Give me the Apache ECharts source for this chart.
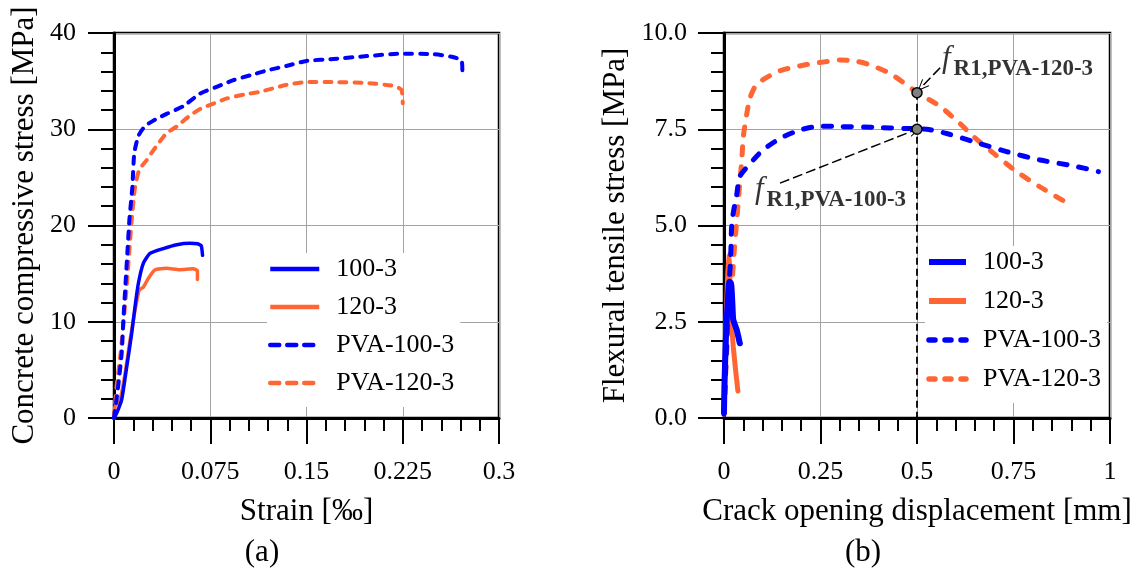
<!DOCTYPE html>
<html><head><meta charset="utf-8">
<script src="https://cdn.jsdelivr.net/npm/echarts@6/dist/echarts.min.js"></script>
<style>html,body{margin:0;padding:0;background:#fff}#c{width:1142px;height:571px}</style>
</head><body><div id="c"></div>
<script>
const FONT = '"Liberation Serif", "Times New Roman", serif';
const BLUE = '#0000ff';
const ORANGE = '#ff6633';

const seriesNames = ['100-3', '120-3', 'PVA-100-3', 'PVA-120-3'];
const xTicksA = ['0', '0.075', '0.15', '0.225', '0.3'];
const yTicksA = ['0', '10', '20', '30', '40'];
const xTicksB = ['0', '0.25', '0.5', '0.75', '1'];
const yTicksB = ['0.0', '2.5', '5.0', '7.5', '10.0'];

// (a) strain [‰] vs concrete compressive stress [MPa]
const a_100_3 = [[0,0],[0.0021,0.5],[0.006,1.9],[0.0099,5.3],[0.0138,8.8],[0.0164,11.6],[0.019,14.0],[0.0229,16.1],[0.028,17.1],[0.0384,17.6],[0.0489,18.0],[0.0592,18.15],[0.065,18.1],[0.068,17.9],[0.069,16.9]];
const a_120_3 = [[0,0],[0.0008,1.2],[0.0047,1.9],[0.0086,4.6],[0.0125,8.1],[0.0164,11.2],[0.0197,13.3],[0.0229,13.6],[0.0267,14.5],[0.032,15.4],[0.041,15.55],[0.051,15.4],[0.062,15.5],[0.065,15.3],[0.065,14.4]];
const a_PVA_100_3 = [[0,0],[0.003,3.0],[0.006,6.75],[0.0073,10.2],[0.0104,17.1],[0.012,20.6],[0.0143,24.0],[0.0158,27.5],[0.019,29.3],[0.024,30.3],[0.032,31.0],[0.041,31.6],[0.054,32.4],[0.067,33.7],[0.08,34.4],[0.093,35.1],[0.106,35.6],[0.119,36.1],[0.135,36.6],[0.150,37.1],[0.171,37.3],[0.197,37.6],[0.223,37.85],[0.249,37.8],[0.264,37.5],[0.271,37.1],[0.2715,35.7]];
const a_PVA_120_3 = [[0,0],[0.002,3.3],[0.0052,6.75],[0.0099,13.7],[0.0138,20.6],[0.0164,24.0],[0.0197,25.8],[0.0255,26.8],[0.029,27.5],[0.035,28.6],[0.041,29.6],[0.049,30.3],[0.058,31.3],[0.067,32.1],[0.078,32.7],[0.088,33.2],[0.101,33.6],[0.114,33.9],[0.134,34.6],[0.150,34.9],[0.171,34.9],[0.197,34.8],[0.218,34.5],[0.224,34.1],[0.225,32.7]];

// (b) crack opening displacement [mm] vs flexural tensile stress [MPa]
const b_100_3 = [[0,0.15],[0.001,0.8],[0.005,2.1],[0.0095,2.98],[0.0138,3.54],[0.018,3.5],[0.02,3.3],[0.022,2.9],[0.024,2.55],[0.033,2.29],[0.041,1.94]];
const b_120_3 = [[0,0.1],[0.002,1.0],[0.004,2.0],[0.007,3.0],[0.01,3.8],[0.013,4.25],[0.015,3.8],[0.016,3.0],[0.02,2.4],[0.024,1.85],[0.03,1.25],[0.036,0.7]];
const b_PVA_100_3 = [[0,0.1],[0.005,1.5],[0.01,2.8],[0.014,3.6],[0.0174,4.2],[0.019,4.8],[0.021,5.13],[0.027,5.5],[0.033,5.8],[0.041,6.27],[0.067,6.6],[0.1,6.95],[0.145,7.26],[0.197,7.48],[0.249,7.58],[0.3,7.57],[0.387,7.55],[0.473,7.52],[0.525,7.5],[0.577,7.39],[0.646,7.18],[0.732,6.92],[0.819,6.7],[0.905,6.55],[0.97,6.4]];
const b_PVA_120_3 = [[0,0.1],[0.007,1.7],[0.014,2.8],[0.02,3.4],[0.027,4.4],[0.033,5.13],[0.04,6.0],[0.046,6.7],[0.05,7.3],[0.059,7.9],[0.067,8.3],[0.08,8.6],[0.1,8.78],[0.145,9.02],[0.214,9.18],[0.26,9.25],[0.30,9.3],[0.34,9.27],[0.37,9.2],[0.43,8.95],[0.5,8.46],[0.56,8.09],[0.611,7.65],[0.646,7.31],[0.698,6.88],[0.758,6.4],[0.819,6.0],[0.883,5.62]];

// f_R1 annotations in (b)
const fR1Points = [[0.5, 8.45], [0.5, 7.5]];
const fR1Subs = ['R1,PVA-120-3', 'R1,PVA-100-3'];
const fR1LabelAt = [[0.566, 8.76], [0.0815, 5.36]];
const fR1ArrowFrom = [[0.56, 9.1], [0.145, 6.1]];
const fR1ArrowTo = [[0.512, 8.6], [0.495, 7.48]];

const CHEVRON = 'path://M0,12 L5,0 L10,12 L8.9,12 L5,2.6 L1.1,12 Z';

function lineSeries(name, data, gi, color, dashed, width, dash, smooth) {
  return {
    type: 'line', name: name, data: data, xAxisIndex: gi, yAxisIndex: gi,
    symbol: 'none', showSymbol: false, smooth: smooth, animation: false, silent: true,
    lineStyle: { color: color, width: width, type: dashed ? dash : 'solid', cap: 'round', join: 'round' },
    itemStyle: { color: color }, z: 2
  };
}

const axisCommon = {
  type: 'value',
  axisLine: { show: true, onZero: false, lineStyle: { color: '#000', width: 3 } },
  axisTick: { show: true, length: 26, lineStyle: { color: '#000', width: 2 } },
  minorTick: { show: true, splitNumber: 5, length: 13, lineStyle: { color: '#000', width: 2 } },
  splitLine: { show: true, lineStyle: { color: '#a3a3a3', width: 1 } },
  nameLocation: 'middle',
  nameTextStyle: { fontFamily: FONT, fontSize: 31, color: '#000' }
};

function xAxis(gi, max, interval, labels, name) {
  return Object.assign({}, axisCommon, {
    gridIndex: gi, min: 0, max: max, interval: interval, name: name, nameGap: 78,
    axisLabel: { fontFamily: FONT, fontSize: 26, color: '#000', margin: 41,
      formatter: (v, i) => labels[i] }
  });
}
function yAxis(gi, max, interval, labels, name, gap, margin) {
  return Object.assign({}, axisCommon, {
    gridIndex: gi, min: 0, max: max, interval: interval, name: name, nameGap: gap, nameRotate: 90,
    axisLabel: { fontFamily: FONT, fontSize: 26, color: '#000', margin: margin,
      formatter: (v, i) => labels[i] }
  });
}

function legend(left, top, itemWidth, gap, styles) {
  return {
    orient: 'vertical', left: left, top: top, itemWidth: itemWidth, itemHeight: 14, itemGap: gap,
    padding: [3, 6, 11, 1], backgroundColor: '#fff', selectedMode: false, z: 4,
    itemStyle: { opacity: 0, borderWidth: 0 },
    textStyle: { fontFamily: FONT, fontSize: 26, color: '#000', lineHeight: 26, padding: [0, 0, 0, 12] },
    data: seriesNames.map((n, i) => ({ name: n, lineStyle: Object.assign({ opacity: 1 }, styles[i]), itemStyle: { opacity: 0, borderWidth: 0 } }))
  };
}

const dashA = [7, 8];
const dashB = [8, 12];

const option = {
  backgroundColor: '#fff',
  animation: false,
  grid: [
    { left: 114, top: 33, width: 385, height: 385, show: true, borderColor: '#000', borderWidth: 2.5, backgroundColor: 'transparent' },
    { left: 724, top: 33, width: 386, height: 385, show: true, borderColor: '#000', borderWidth: 2.5, backgroundColor: 'transparent' }
  ],
  xAxis: [
    xAxis(0, 0.3, 0.075, xTicksA, 'Strain [‰]'),
    xAxis(1, 1, 0.25, xTicksB, 'Crack opening displacement [mm]')
  ],
  yAxis: [
    yAxis(0, 40, 10, yTicksA, 'Concrete compressive stress [MPa]', 74, 38),
    yAxis(1, 10, 2.5, yTicksB, 'Flexural tensile stress [MPa]', 93, 37)
  ],
  legend: [
    legend(267, 253, 49, 12, [
      { width: 4.5, type: 'solid', cap: 'butt' }, { width: 4.5, type: 'solid', cap: 'butt' },
      { width: 4.5, type: [9, 8], cap: 'round' }, { width: 4.5, type: [9, 8], cap: 'round' }]),
    legend(925, 246, 37, 13, [
      { width: 6, type: 'solid', cap: 'butt' }, { width: 6, type: 'solid', cap: 'butt' },
      { width: 5.5, type: [6, 10], cap: 'round' }, { width: 5.5, type: [6, 10], cap: 'round' }])
  ],
  graphic: [
    { type: 'text', x: 262, y: 553, style: { text: '(a)', font: '31px ' + FONT, fill: '#000', align: 'center', verticalAlign: 'middle' } },
    { type: 'text', x: 863, y: 553, style: { text: '(b)', font: '31px ' + FONT, fill: '#000', align: 'center', verticalAlign: 'middle' } }
  ],
  series: [
    // (b) first, so that both legends take their line icons from these line series
    lineSeries('120-3', b_120_3, 1, ORANGE, false, 5, null, 0.15),
    lineSeries('PVA-120-3', b_PVA_120_3, 1, ORANGE, true, 5, dashB, 0.25),
    lineSeries('PVA-100-3', b_PVA_100_3, 1, BLUE, true, 5, dashB, 0.25),
    lineSeries('100-3', b_100_3, 1, BLUE, false, 6, null, 0.15),
    // (a)
    lineSeries('120-3', a_120_3, 0, ORANGE, false, 3.5, null, 0.15),
    lineSeries('PVA-120-3', a_PVA_120_3, 0, ORANGE, true, 4, dashA, 0.2),
    lineSeries('PVA-100-3', a_PVA_100_3, 0, BLUE, true, 4, dashA, 0.2),
    lineSeries('100-3', a_100_3, 0, BLUE, false, 3.5, null, 0.15),
    {
      type: 'scatter', name: 'fR1', xAxisIndex: 1, yAxisIndex: 1, data: fR1Points,
      symbol: 'circle', symbolSize: 10, z: 6, silent: true, animation: false,
      itemStyle: { color: '#808080', borderColor: '#000', borderWidth: 1.5, opacity: 1 },
      markLine: {
        silent: true, animation: false, symbol: ['none', 'none'], label: { show: false },
        lineStyle: { color: '#000', width: 1.5, type: [10, 4] },
        data: [
          [{ coord: fR1Points[0], lineStyle: { width: 1.8, type: [7, 4], color: '#000' } }, { coord: [fR1Points[0][0], 0] }],
          [{ coord: fR1ArrowFrom[0] }, { coord: fR1ArrowTo[0], symbol: CHEVRON, symbolSize: [10, 12] }],
          [{ coord: fR1ArrowFrom[1] }, { coord: fR1ArrowTo[1], symbol: CHEVRON, symbolSize: [10, 12] }]
        ]
      }
    },
    {
      type: 'scatter', name: 'fR1label', xAxisIndex: 1, yAxisIndex: 1,
      data: fR1LabelAt.map((p, i) => ({ value: p, sub: fR1Subs[i] })),
      symbolSize: 1, itemStyle: { color: 'rgba(0,0,0,0)' }, z: 7, silent: true, animation: false,
      label: {
        show: true, position: [0, 0], align: 'left', verticalAlign: 'bottom',
        formatter: (p) => '{f|f}{s|' + p.data.sub + '}',
        rich: {
          f: { fontFamily: FONT, fontStyle: 'italic', fontSize: 31, color: '#000', verticalAlign: 'bottom', lineHeight: 31, padding: [0, 3, 6, 0] },
          s: { fontFamily: FONT, fontWeight: 'bold', fontSize: 23, color: '#000', verticalAlign: 'bottom', lineHeight: 23 }
        }
      }
    }
  ]
};

const chart = echarts.init(document.getElementById('c'), null, { renderer: 'canvas' });
chart.setOption(option);
</script>
</body></html>
